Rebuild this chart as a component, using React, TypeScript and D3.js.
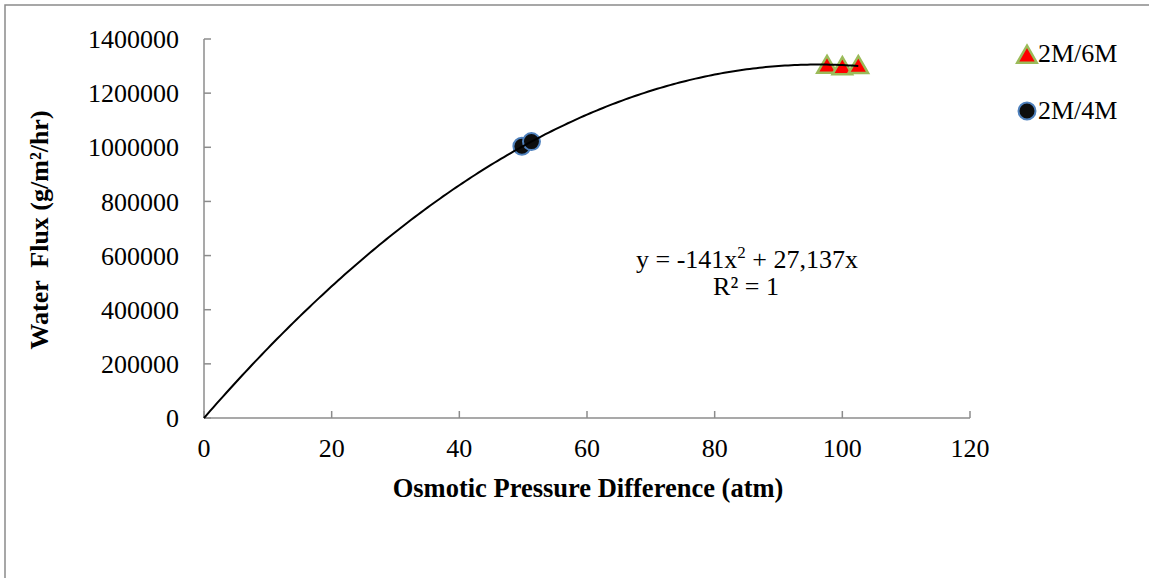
import React from "react";
import * as d3 from "d3";

// series
const pressure6M = [97.6, 100, 102.5];
const flux6M = [1296000, 1291000, 1295000];
const pressure4M = [49.8, 51.3];
const flux4M = [1004000, 1021000];

const xTicks = [0, 20, 40, 60, 80, 100, 120];
const yTicks = [0, 200000, 400000, 600000, 800000, 1000000, 1200000, 1400000];

// polynomial trendline shown on the chart
const trendA = -141;
const trendB = 27137;

const font = "'Liberation Serif', 'Times New Roman', serif";

const App = () => {
  const width = 1149;
  const height = 578;
  const margin = { top: 39, right: 179, bottom: 160, left: 204 };

  const x = d3.scaleLinear().domain([0, 120]).range([margin.left, width - margin.right]);
  const y = d3.scaleLinear().domain([0, 1400000]).range([height - margin.bottom, margin.top]);

  const xMax = d3.max(pressure6M.concat(pressure4M)) as number;
  const trendX = d3.range(0, xMax, 0.5).concat([xMax]);
  const line = d3
    .line<number>()
    .x(d => x(d))
    .y(d => y(trendA * d * d + trendB * d));

  const tri = d3.symbol().type(d3.symbolTriangle).size(165);
  const axisColor = "#8c8c8c";

  return (
    <svg width={width} height={height} style={{ position: "absolute", left: 0, top: 0 }} fontFamily={font}>
      <rect x={0} y={0} width={width} height={height} fill="#fff" />
      <rect x={5} y={5} width={width + 20} height={height + 20} fill="none" stroke="#8a8a8a" strokeWidth={1.5} />

      {/* axes */}
      <line x1={x(0)} x2={x(0)} y1={y(0)} y2={y(1400000)} stroke={axisColor} strokeWidth={1.5} />
      <line x1={x(0)} x2={x(120)} y1={y(0)} y2={y(0)} stroke={axisColor} strokeWidth={1.5} />
      {yTicks.map(t => (
        <g key={"y" + t}>
          <line x1={x(0)} x2={x(0) + 7} y1={y(t)} y2={y(t)} stroke={axisColor} strokeWidth={1.5} />
          <text x={x(0) - 25} y={y(t)} dy="0.35em" textAnchor="end" fontSize={26} fill="#000">
            {t}
          </text>
        </g>
      ))}
      {xTicks.map(t => (
        <g key={"x" + t}>
          <line x1={x(t)} x2={x(t)} y1={y(0)} y2={y(0) - 7} stroke={axisColor} strokeWidth={1.5} />
          <text x={x(t)} y={457} textAnchor="middle" fontSize={26} fill="#000">
            {t}
          </text>
        </g>
      ))}

      <text x={588} y={497} textAnchor="middle" fontSize={26.5} fontWeight="bold">
        Osmotic Pressure Difference (atm)
      </text>
      <text
        transform={`translate(48, 230) rotate(-90)`}
        textAnchor="middle"
        fontSize={26}
        fontWeight="bold"
        style={{ whiteSpace: "pre" }}
      >
        {"Water  Flux (g/m²/hr)"}
      </text>

      {/* markers */}
      {pressure6M.map((p, i) => (
        <path
          key={"t" + i}
          d={tri() as string}
          transform={`translate(${x(p)}, ${y(flux6M[i])})`}
          fill="#ff0000"
          stroke="#9bbb59"
          strokeWidth={2.5}
        />
      ))}
      {pressure4M.map((p, i) => (
        <circle key={"c" + i} cx={x(p)} cy={y(flux4M[i])} r={8.5} fill="#0d0d0d" stroke="#4f81bd" strokeWidth={2} />
      ))}

      {/* trendline */}
      <path d={line(trendX) as string} fill="none" stroke="#000" strokeWidth={2} />

      {/* equation */}
      <text x={747} y={268} textAnchor="middle" fontSize={26}>
        y = -141x<tspan dy={-10} fontSize={17}>2</tspan>
        <tspan dy={10}> + 27,137x</tspan>
      </text>
      <text x={746} y={295} textAnchor="middle" fontSize={26}>
        R² = 1
      </text>

      {/* legend */}
      <path d={tri() as string} transform="translate(1027, 57)" fill="#ff0000" stroke="#9bbb59" strokeWidth={2.5} />
      <text x={1038} y={62} fontSize={26}>2M/6M</text>
      <circle cx={1027} cy={111} r={8.5} fill="#0d0d0d" stroke="#4f81bd" strokeWidth={2} />
      <text x={1038} y={119} fontSize={26}>2M/4M</text>
    </svg>
  );
};

export default App;
